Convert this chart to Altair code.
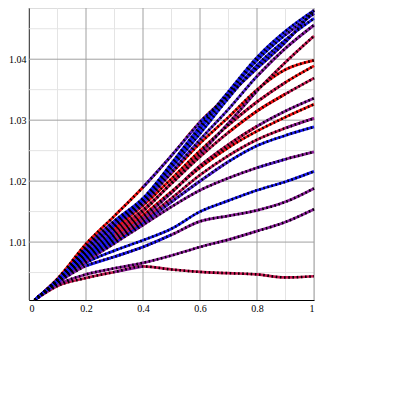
import altair as alt
import pandas as pd

# x positions of the read-off points
X = [0.02, 0.1, 0.2, 0.3, 0.4, 0.5, 0.6, 0.7, 0.8, 0.9, 1.0]

L01 = [1.0005, 1.0028, 1.0041, 1.0051, 1.0060, 1.0055, 1.0051, 1.0049, 1.0047, 1.0042, 1.0044]
L02 = [1.0005, 1.0030, 1.0047, 1.0057, 1.0066, 1.0078, 1.0092, 1.0104, 1.0118, 1.0133, 1.0154]
L03 = [1.0005, 1.0033, 1.0061, 1.0076, 1.0092, 1.0112, 1.0134, 1.0143, 1.0152, 1.0166, 1.0188]
L04 = [1.0005, 1.0034, 1.0066, 1.0086, 1.0103, 1.0122, 1.0150, 1.0168, 1.0185, 1.0199, 1.0216]
L05 = [1.0005, 1.0035, 1.0068, 1.0098, 1.0128, 1.0158, 1.0185, 1.0205, 1.0222, 1.0236, 1.0248]
L06 = [1.0005, 1.0035, 1.0072, 1.0100, 1.0132, 1.0166, 1.0200, 1.0232, 1.0258, 1.0275, 1.0289]
L07 = [1.0005, 1.0036, 1.0074, 1.0103, 1.0136, 1.0172, 1.0210, 1.0242, 1.0268, 1.0287, 1.0303]
L08 = [1.0005, 1.0036, 1.0078, 1.0110, 1.0144, 1.0183, 1.0222, 1.0255, 1.0282, 1.0305, 1.0326]
L09 = [1.0005, 1.0036, 1.0076, 1.0106, 1.0140, 1.0181, 1.0225, 1.0260, 1.0290, 1.0315, 1.0336]
L10 = [1.0005, 1.0037, 1.0082, 1.0118, 1.0153, 1.0196, 1.0240, 1.0280, 1.0315, 1.0343, 1.0369]
L11 = [1.0005, 1.0037, 1.0084, 1.0122, 1.0160, 1.0204, 1.0250, 1.0292, 1.0330, 1.0362, 1.0389]
L12 = [1.0005, 1.0038, 1.0088, 1.0126, 1.0165, 1.0213, 1.0262, 1.0305, 1.0350, 1.0383, 1.0398]
L13 = [1.0005, 1.0037, 1.0080, 1.0113, 1.0150, 1.0197, 1.0245, 1.0295, 1.0348, 1.0395, 1.0438]
L14 = [1.0005, 1.0038, 1.0088, 1.0127, 1.0163, 1.0215, 1.0268, 1.0318, 1.0372, 1.0418, 1.0456]
L15 = [1.0005, 1.0038, 1.0090, 1.0131, 1.0168, 1.0222, 1.0278, 1.0336, 1.0390, 1.0432, 1.0467]
L16 = [1.0005, 1.0039, 1.0092, 1.0135, 1.0172, 1.0228, 1.0285, 1.0343, 1.0398, 1.0440, 1.0475]
L17 = [1.0005, 1.0039, 1.0092, 1.0134, 1.0170, 1.0229, 1.0290, 1.0347, 1.0403, 1.0446, 1.0480]
L18 = [1.0005, 1.0040, 1.0097, 1.0143, 1.0190, 1.0242, 1.0297, 1.0341, 1.0385, 1.0428, 1.0480]

LINES = [L01, L02, L03, L04, L05, L06, L07, L08, L09, L10,
         L11, L12, L13, L14, L15, L16, L17, L18]

# colour code of each of the 10 intervals of every line
HUES = ["mmmpmmmmmm", "pppppppppp", "ppbbbppppp", "bbbbbbbbbb", "ppppppppvp",
        "bbbbvvvbbb", "bbbmmmmmmp", "bbvrrrrrrr", "bbbppmmmpp", "bbbmmmmrrm",
        "bbvrrrrmmr", "bbrrrrrrrr", "bbbmmmppmm", "bbbvvvvvpp", "bbbbbbbbbb",
        "bbbbbbbbbv", "bbvbbbbbbb", "rrrrvvbbbb"]

HUE_KEYS = ["r", "m", "p", "v", "b"]
HUE_COLORS = ["#f01010", "#c41850", "#8a1e98", "#5522cc", "#1a1af0"]

X_MAJOR = [0, 0.2, 0.4, 0.6, 0.8, 1.0]
X_MINOR = [0.1, 0.3, 0.5, 0.7, 0.9]
Y_MAJOR = [1.01, 1.02, 1.03, 1.04]
Y_MINOR = [1.005, 1.015, 1.025, 1.035, 1.045]

base_rows = []
over_rows = []
for i, (vals, hues) in enumerate(zip(LINES, HUES)):
    main = max(HUE_KEYS, key=lambda h: hues.count(h))
    for j in range(len(X)):
        base_rows.append({"line": f"{i:02d}", "c": main, "x": X[j], "y": vals[j]})
    k = 0
    start = 0
    for seg in range(1, len(hues) + 1):
        if seg == len(hues) or hues[seg] != hues[start]:
            if hues[start] != main:
                for j in range(start, seg + 1):
                    over_rows.append({"piece": f"{i:02d}-{k:02d}", "c": hues[start],
                                      "x": X[j], "y": vals[j]})
            k += 1
            start = seg

base = pd.DataFrame(base_rows)
over = pd.DataFrame(over_rows)

xs = alt.Scale(domain=[0, 1], nice=False)
ys = alt.Scale(domain=[1.0005, 1.0484], nice=False, zero=False)
cs = alt.Scale(domain=HUE_KEYS, range=HUE_COLORS)

axis_common = dict(grid=False, ticks=False, domainColor="black", domainWidth=1,
                   labelFont="Liberation Serif", labelFontSize=10, labelColor="black",
                   labelPadding=3, labelOverlap=False, title=None, format="~g")

minor_x = alt.Chart(pd.DataFrame({"v": X_MINOR})).mark_rule(color="#e4e4e4", strokeWidth=1).encode(
    x=alt.X("v:Q", scale=xs, axis=alt.Axis(values=X_MAJOR, **axis_common)))
minor_y = alt.Chart(pd.DataFrame({"v": Y_MINOR})).mark_rule(color="#e4e4e4", strokeWidth=1).encode(
    y=alt.Y("v:Q", scale=ys, axis=alt.Axis(values=Y_MAJOR, **axis_common)))
major_x = alt.Chart(pd.DataFrame({"v": X_MAJOR})).mark_rule(color="#a0a0a0", strokeWidth=1).encode(
    x=alt.X("v:Q", scale=xs))
major_y = alt.Chart(pd.DataFrame({"v": Y_MAJOR})).mark_rule(color="#a0a0a0", strokeWidth=1).encode(
    y=alt.Y("v:Q", scale=ys))

base_lines = alt.Chart(base).mark_line(strokeWidth=2.7, interpolate="monotone").encode(
    x=alt.X("x:Q", scale=xs),
    y=alt.Y("y:Q", scale=ys),
    color=alt.Color("c:N", scale=cs, legend=None),
    detail="line:N",
)

over_lines = alt.Chart(over).mark_line(strokeWidth=2.7, interpolate="monotone").encode(
    x=alt.X("x:Q", scale=xs),
    y=alt.Y("y:Q", scale=ys),
    color=alt.Color("c:N", scale=cs, legend=None),
    detail="piece:N",
)

dotted = alt.Chart(base).mark_line(color="black", strokeWidth=2.6, strokeDash=[1.6, 2.6],
                                   interpolate="monotone").encode(
    x=alt.X("x:Q", scale=xs),
    y=alt.Y("y:Q", scale=ys),
    detail="line:N",
)

chart = alt.layer(minor_x, minor_y, major_x, major_y, base_lines, over_lines, dotted).properties(
    width=285, height=292,
    autosize=alt.AutoSizeParams(type="none"),
    padding={"left": 21, "top": 0, "right": 12, "bottom": 22},
).configure_view(stroke="#888888", strokeWidth=1).configure(background="white")

chart.save("out.html", embed_options={"renderer": "svg", "actions": False})
